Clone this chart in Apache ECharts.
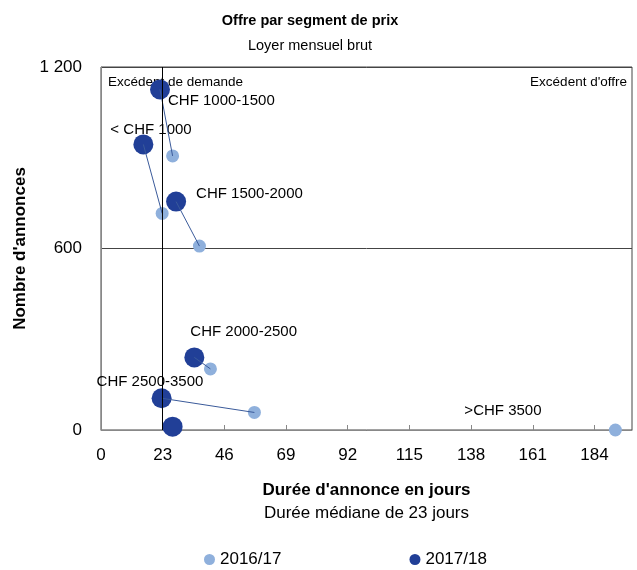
<!DOCTYPE html>
<html><head><meta charset="utf-8">
<script src="https://cdn.jsdelivr.net/npm/echarts@6/dist/echarts.min.js"></script>
<style>html,body{margin:0;padding:0;background:#fff}#c{width:637px;height:570px}</style>
</head><body><div id="c"></div>
<script>
var categories = ['< CHF 1000', 'CHF 1000-1500', 'CHF 1500-2000', 'CHF 2000-2500', 'CHF 2500-3500', '>CHF 3500'];
var days1617 = [22.8, 26.7, 36.7, 40.8, 57.2, 191.8];
var count1617 = [716, 906, 608, 202, 58, 0];
var days1718 = [15.8, 22.0, 28.0, 34.8, 22.6, 26.7];
var count1718 = [944, 1126, 755, 240, 105, 11];
var xTicks = [0, 23, 46, 69, 92, 115, 138, 161, 184];
var yTicks = [0, 600, 1200];
var medianDays = 23;

var FONT = '"Liberation Sans", Arial, sans-serif';
var DARK = '#213f97', LIGHT = '#8fb0dc';
// label offsets (layout only)
var labelOffsets = [[-33,-15],[8,11],[20,-8],[-4,-26],[-65,-16]];

var chart = echarts.init(document.getElementById('c'));
var series = [];
categories.forEach(function (c, i) {
  if (i === 5) return;
  series.push({
    type: 'line', silent: true, z: 6, symbol: 'none',
    lineStyle: { color: '#3a5a9a', width: 1 },
    data: [[days1617[i], count1617[i]], [days1718[i], count1718[i]]]
  });
});
series.push({
  name: '2016/17', type: 'scatter', z: 3, symbolSize: 13,
  itemStyle: { color: LIGHT, opacity: 1 },
  data: days1617.map(function (d, i) {
    var o = { value: [d, count1617[i]] };
    if (i === 5) o.label = { show: true, formatter: categories[i], position: 'inside', align: 'left', offset: [-151, -19], color: '#000', fontSize: 15, fontFamily: FONT };
    return o;
  })
});
series.push({
  name: '2017/18', type: 'scatter', z: 4, symbolSize: 20,
  itemStyle: { color: DARK, opacity: 1 },
  data: days1718.map(function (d, i) {
    var o = { value: [d, count1718[i]] };
    if (i < 5) o.label = { show: true, formatter: categories[i], position: 'inside', align: 'left', offset: labelOffsets[i], color: '#000', fontSize: 15, fontFamily: FONT };
    return o;
  }),
  markLine: {
    silent: true, symbol: 'none', z: 7, label: { show: false },
    data: [
      { xAxis: medianDays, lineStyle: { color: '#000', width: 1, type: 'solid' } }
    ]
  }
});

chart.setOption({
  animation: false,
  textStyle: { fontFamily: FONT },
  title: [
    { text: 'Offre par segment de prix', left: 305, top: 8, textAlign: 'center',
      textStyle: { fontSize: 14.5, fontWeight: 'bold', color: '#000', fontFamily: FONT } },
    { text: 'Loyer mensuel brut', left: 305, top: 33, textAlign: 'center',
      textStyle: { fontSize: 14.5, fontWeight: 'normal', color: '#000', fontFamily: FONT } }
  ],
  grid: { left: 101, right: 5, top: 67, bottom: 140, show: true, borderColor: '#444', borderWidth: 1 },
  legend: {
    data: ['2016/17', '2017/18'], left: 199, top: 546, itemGap: 128,
    icon: 'circle', itemWidth: 11, itemHeight: 11,
    textStyle: { fontSize: 17, color: '#000', fontFamily: FONT }
  },
  xAxis: {
    type: 'value', min: xTicks[0], max: 198, interval: xTicks[1] - xTicks[0],
    axisLine: { lineStyle: { color: '#888' } },
    axisTick: { inside: true, length: 5, lineStyle: { color: '#888' } },
    splitLine: { show: false },
    axisLabel: { showMaxLabel: false, fontSize: 17, color: '#000', margin: 17, fontFamily: FONT },
    name: '{b|Durée d\'annonce en jours}\n{n|Durée médiane de 23 jours}',
    nameLocation: 'middle', nameGap: 49,
    nameTextStyle: { rich: {
      b: { fontSize: 17, fontWeight: 'bold', color: '#000', fontFamily: FONT, lineHeight: 23 },
      n: { fontSize: 17, color: '#000', fontFamily: FONT, lineHeight: 23 }
    } }
  },
  yAxis: {
    type: 'value', min: yTicks[0], max: yTicks[2], interval: yTicks[1] - yTicks[0],
    axisLine: { show: true, lineStyle: { color: '#888' } },
    axisTick: { show: false },
    splitLine: { show: true, lineStyle: { color: '#444', width: 1 } },
    axisLabel: { fontSize: 17, color: '#000', margin: 19, fontFamily: FONT,
      formatter: function (v) { return String(v).replace(/\B(?=(\d{3})+(?!\d))/g, ' '); } },
    name: 'Nombre d\'annonces', nameLocation: 'middle', nameRotate: 90, nameGap: 72,
    nameTextStyle: { fontSize: 17, fontWeight: 'bold', color: '#000', fontFamily: FONT }
  },
  graphic: [
    { type: 'text', left: 108, top: 75, style: { text: 'Excédent de demande', fontSize: 13.5, fill: '#000', fontFamily: FONT } },
    { type: 'text', right: 10, top: 75, style: { text: 'Excédent d\'offre', fontSize: 13.5, fill: '#000', fontFamily: FONT } }
  ],
  series: series
});
</script></body></html>
